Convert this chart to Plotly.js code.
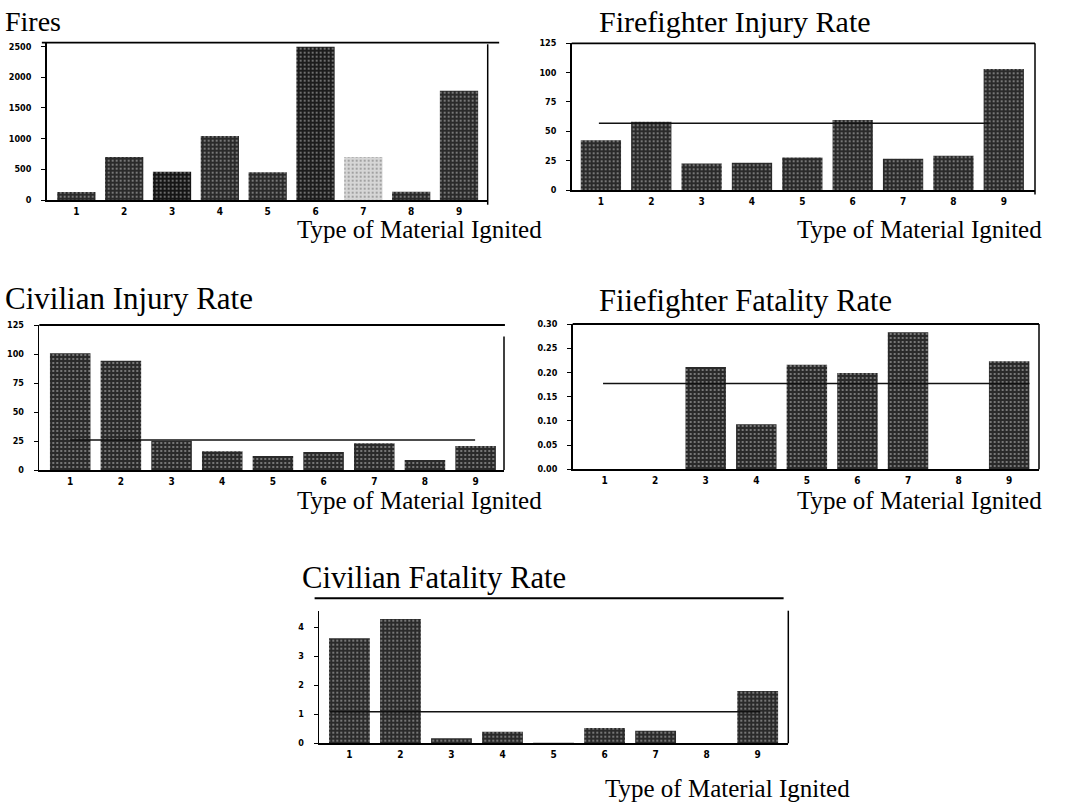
<!DOCTYPE html>
<html>
<head>
<meta charset="utf-8">
<script src="https://cdn.plot.ly/plotly-3.0.1.min.js"></script>
<style>
html,body{margin:0;padding:0;background:#fff;}
#chart{width:1075px;height:809px;}
</style>
</head>
<body>
<div id="chart"></div>
<script>
// ---- data ----
const categories = [1, 2, 3, 4, 5, 6, 7, 8, 9];
const catLabels = ["1", "2", "3", "4", "5", "6", "7", "8", "9"];

const fires = [130, 700, 460, 1040, 450, 2495, 700, 135, 1780];
const ffInjury = [42.4, 58.2, 22.6, 23.2, 27.7, 59.6, 26.6, 29.1, 103];
const ffInjuryAvg = 56.8;
const civInjury = [100.6, 94.2, 25.3, 16.1, 12.1, 15.5, 23.0, 8.6, 20.7];
const civInjuryAvg = 25.9;
const ffFatal = [0, 0, 0.211, 0.093, 0.216, 0.199, 0.283, 0, 0.223];
const ffFatalAvg = 0.177;
const civFatal = [3.62, 4.28, 0.17, 0.40, 0.02, 0.53, 0.43, 0, 1.80];
const civFatalAvg = 1.09;

const firesTicks = [0, 500, 1000, 1500, 2000, 2500];
const rateTicks = [0, 25, 50, 75, 100, 125];
const ffFatalTicks = [0, 0.05, 0.10, 0.15, 0.20, 0.25, 0.30];
const ffFatalTickText = ["0.00", "0.05", "0.10", "0.15", "0.20", "0.25", "0.30"];
const civFatalTicks = [0, 1, 2, 3, 4];

const titles = ["Fires", "Firefighter Injury Rate", "Civilian Injury Rate", "Fiiefighter Fatality Rate", "Civilian Fatality Rate"];
const xTitle = "Type of Material Ignited";

// ---- layout helpers ----
const W = 1075, H = 809;
const px = v => v / W;
const py = v => 1 - v / H;

const DARK = "#2a2a2a";
const tickFont = {family: "DejaVu Sans Condensed", size: 10, color: "#000", weight: "bold"};
const yTickFont = {family: "DejaVu Sans Condensed", size: 9, color: "#000", weight: "bold"};
const serif = "Liberation Serif, Times New Roman, serif";

const panels = [
  {vals: fires, avg: null, avgX: null, box: [46.7, 487.7, 42.7, 200], xr: [0.38, 9.6], yr: [0, 2560],
   tv: firesTicks, tt: firesTicks.map(String),
   colors: [DARK, DARK, "#151515", DARK, DARK, "#1c1c1c", "#d6d6d6", DARK, DARK],
   top: [-0.011, 1.026, 1.0], right: [1.0, -0.03, 0.99]},
  {vals: ffInjury, avg: ffInjuryAvg, avgX: [0.96, 8.72], box: [571.7, 1035, 43.3, 190], xr: [0.42, 9.62], yr: [0, 125],
   tv: rateTicks, tt: rateTicks.map(String), colors: null,
   top: [0, 1, 1.0], right: [1.0, -0.03, 1.0]},
  {vals: civInjury, avg: civInjuryAvg, avgX: [1.0, 8.99], box: [39.3, 504, 325, 470], xr: [0.39, 9.56], yr: [0, 125],
   tv: rateTicks, tt: rateTicks.map(String), colors: null,
   top: [0, 1.002, 1.0], right: [1.0, 0, 0.92]},
  {vals: ffFatal, avg: ffFatalAvg, avgX: [0.97, 9.4], box: [572.7, 1039, 324, 469.3], xr: [0.37, 9.59], yr: [0, 0.30],
   tv: ffFatalTicks, tt: ffFatalTickText, colors: null,
   top: [0, 1, 1.0], right: [1.0, 0, 1.0]},
  {vals: civFatal, avg: civFatalAvg, avgX: [0.62, 9.05], box: [319.3, 788.3, 610.7, 743.3], xr: [0.41, 9.6], yr: [0, 4.57],
   tv: civFatalTicks, tt: civFatalTicks.map(String), colors: null,
   top: [-0.01, 0.99, 1.094], right: [1.0, 0, 1.0]}
];

const data = [];
const layout = {
  width: W, height: H,
  margin: {l: 0, r: 0, t: 0, b: 0},
  paper_bgcolor: "#fff", plot_bgcolor: "rgba(0,0,0,0)",
  showlegend: false,
  bargap: 0.2,
  annotations: [], shapes: []
};

panels.forEach((p, i) => {
  const n = i === 0 ? "" : String(i + 1);
  const xa = "x" + n, ya = "y" + n;
  const cols = p.colors || categories.map(() => DARK);
  data.push({
    type: "bar", x: categories, y: p.vals, xaxis: xa, yaxis: ya, width: 0.8,
    marker: {
      color: cols,
      line: {width: 0},
      pattern: {shape: ".", fillmode: "overlay", fgcolor: cols.map(c => c === "#d6d6d6" ? "#9a9a9a" : "#7a7a7a"),
                size: 4, solidity: 0.18}
    },
    hoverinfo: "x+y"
  });
  if (p.avg !== null) {
    data.push({
      type: "scatter", mode: "lines", x: p.avgX, y: [p.avg, p.avg], xaxis: xa, yaxis: ya,
      line: {color: "#111", width: 1.5}, hoverinfo: "y"
    });
  }
  layout["xaxis" + n] = {
    domain: [px(p.box[0]), px(p.box[1])], anchor: ya, range: p.xr,
    tickmode: "array", tickvals: categories, ticktext: catLabels,
    showline: true, linecolor: "#000", linewidth: 1.5, showgrid: false, zeroline: false,
    ticks: "", tickfont: tickFont, ticklabelstandoff: 1, fixedrange: true
  };
  layout["yaxis" + n] = {
    domain: [py(p.box[3]), py(p.box[2])], anchor: xa, range: p.yr,
    tickmode: "array", tickvals: p.tv, ticktext: p.tt,
    showline: true, linecolor: "#000", linewidth: 1.5, showgrid: false, zeroline: false,
    ticks: "outside", ticklen: 4, tickcolor: "#000", tickwidth: 1,
    tickfont: yTickFont, ticklabelstandoff: 8, fixedrange: true
  };
  // frame lines
  layout.shapes.push({type: "line", xref: xa + " domain", yref: ya + " domain",
    x0: p.top[0], x1: p.top[1], y0: p.top[2], y1: p.top[2], line: {color: "#000", width: 1.8}});
  layout.shapes.push({type: "line", xref: xa + " domain", yref: ya + " domain",
    x0: p.right[0], x1: p.right[0], y0: p.right[1], y1: p.right[2], line: {color: "#000", width: 1.5}});
});

// titles
const titlePos = [[3, 21, 28], [597, 22, 30], [3, 299, 31], [597, 301, 30.5], [300, 578, 30.7]];
titles.forEach((t, i) => {
  layout.annotations.push({text: t, xref: "paper", yref: "paper", x: px(titlePos[i][0]), y: py(titlePos[i][1]),
    xanchor: "left", yanchor: "middle", showarrow: false, font: {family: serif, size: titlePos[i][2], color: "#000"}});
});
const xtPos = [[295, 229], [795, 229], [295, 500], [795, 500], [603, 788]];
xtPos.forEach(pos => {
  layout.annotations.push({text: xTitle, xref: "paper", yref: "paper", x: px(pos[0]), y: py(pos[1]),
    xanchor: "left", yanchor: "middle", showarrow: false, font: {family: serif, size: 25, color: "#000"}});
});

Plotly.newPlot("chart", data, layout, {displayModeBar: false, staticPlot: true});
</script>
</body>
</html>
